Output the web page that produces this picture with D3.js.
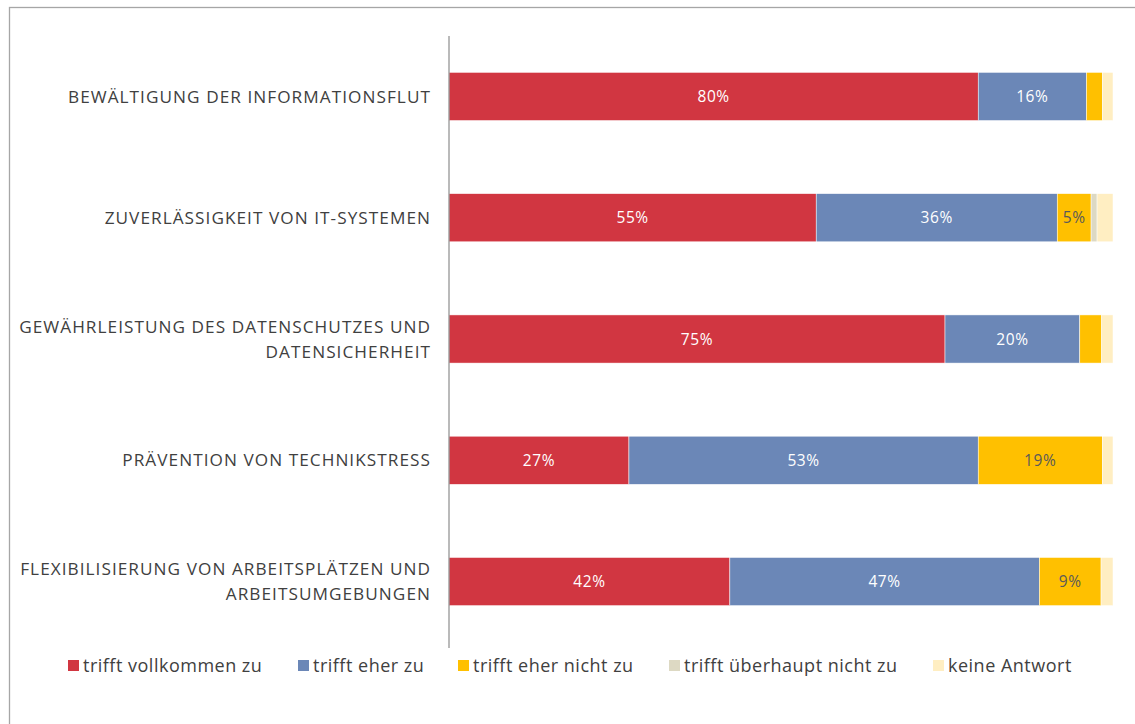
<!DOCTYPE html>
<html>
<head>
<meta charset="utf-8">
<script src="https://cdn.jsdelivr.net/npm/d3@7"></script>
<style>
  body { margin: 0; background: #fff; }
  svg { font-family: "Open Sans", sans-serif; }
</style>
</head>
<body>
<div id="bar-chart"></div>
<script>
const categories = [
  ["BEWÄLTIGUNG DER INFORMATIONSFLUT"],
  ["ZUVERLÄSSIGKEIT VON IT-SYSTEMEN"],
  ["GEWÄHRLEISTUNG DES DATENSCHUTZES UND", "DATENSICHERHEIT"],
  ["PRÄVENTION VON TECHNIKSTRESS"],
  ["FLEXIBILISIERUNG VON ARBEITSPLÄTZEN UND", "ARBEITSUMGEBUNGEN"]
];
const seriesNames = ["trifft vollkommen zu", "trifft eher zu", "trifft eher nicht zu", "trifft überhaupt nicht zu", "keine Antwort"];
const vollkommen = [79.7, 55.3, 74.7, 27.1, 42.3];
const eher = [16.3, 36.3, 20.3, 52.6, 46.6];
const eherNicht = [2.4, 5.1, 3.3, 18.7, 9.3];
const ueberhauptNicht = [0, 0.9, 0, 0, 0];
const keineAntwort = [1.6, 2.4, 1.7, 1.6, 1.8];
const colors = ["#d13641", "#6b87b7", "#ffc000", "#ddd9c3", "#ffeec2"];
const labelColors = ["#ffffff", "#ffffff", "#595959", "#595959", "#595959"];

(function() {
  const W = 1135, H = 724;
  const margin = { top: 36, right: 22, bottom: 82, left: 449 };
  const width = W - margin.left - margin.right;
  const height = H - margin.top - margin.bottom;

  const svg = d3.select('#bar-chart')
    .append('svg')
      .attr('width', W)
      .attr('height', H);

  // chart frame
  svg.append('rect')
    .attr('x', 9.5).attr('y', 7.5)
    .attr('width', W).attr('height', H)
    .attr('fill', 'none')
    .attr('stroke', '#a6a6a6')
    .attr('stroke-width', 1.3);

  const g = svg.append('g')
    .attr('transform', `translate(${margin.left}, ${margin.top})`);

  const seriesData = [vollkommen, eher, eherNicht, ueberhauptNicht, keineAntwort];
  const rows = categories.map((c, i) => {
    const row = { idx: i, label: c };
    seriesNames.forEach((s, j) => row[s] = seriesData[j][i]);
    return row;
  });

  const stack = d3.stack().keys(seriesNames)(rows);

  const x = d3.scaleLinear().domain([0, 100]).range([0, width]);
  const y = d3.scaleBand().domain(d3.range(categories.length)).range([0, height])
    .paddingInner(0.603).paddingOuter(0.3);
  const color = d3.scaleOrdinal(seriesNames, colors);

  const layers = g.selectAll('g.layer')
    .data(stack)
    .enter().append('g')
      .attr('class', 'layer')
      .attr('fill', d => color(d.key));

  layers.selectAll('rect')
    .data(d => d)
    .enter().append('rect')
      .attr('x', d => x(d[0]))
      .attr('y', d => y(d.data.idx))
      .attr('width', d => Math.max(0, x(d[1]) - x(d[0])))
      .attr('height', y.bandwidth())
      .attr('stroke', '#fff')
      .attr('stroke-width', 0.5);

  layers.each(function(layer, li) {
    d3.select(this).selectAll('text')
      .data(layer.filter(d => Math.round(d[1] - d[0]) >= 5))
      .enter().append('text')
        .attr('x', d => x((d[0] + d[1]) / 2))
        .attr('y', d => y(d.data.idx) + y.bandwidth() / 2)
        .attr('dy', '0.36em')
        .attr('text-anchor', 'middle')
        .attr('fill', labelColors[li])
        .style('font-size', '15.5px')
        .style('letter-spacing', '0.6px')
        .text(d => Math.round(d[1] - d[0]) + '%');
  });

  // category axis
  const yAxis = g.append('g').call(d3.axisLeft(y).tickSize(0).tickFormat(''));
  yAxis.select('.domain').attr('stroke', '#8c8c8c').attr('stroke-width', 1.2)
    .attr('d', `M0,0V${height + 6}`);

  const cat = g.selectAll('text.cat')
    .data(rows)
    .enter().append('text')
      .attr('class', 'cat')
      .attr('text-anchor', 'end')
      .attr('fill', '#404040')
      .style('font-size', '17.2px')
      .style('letter-spacing', '1.05px')
      .attr('y', d => y(d.idx) + y.bandwidth() / 2 - (d.label.length - 1) * 12.5);
  cat.selectAll('tspan')
    .data(d => d.label)
    .enter().append('tspan')
      .attr('x', -18)
      .attr('dy', (d, i) => i === 0 ? '0.36em' : '25px')
      .text(d => d);

  // legend
  const legendX = [68, 298, 458, 669, 933];
  const legend = svg.selectAll('.legend')
    .data(seriesNames)
    .enter().append('g')
      .attr('class', 'legend')
      .attr('transform', (d, i) => `translate(${legendX[i]}, 666)`);

  legend.append('rect')
    .attr('x', 0).attr('y', -6)
    .attr('width', 11).attr('height', 11)
    .style('fill', d => color(d));

  legend.append('text')
    .attr('x', 15)
    .attr('dy', '0.36em')
    .attr('fill', '#404040')
    .style('font-size', '18px')
    .style('letter-spacing', '0.5px')
    .text(d => d);
})();
</script>
</body>
</html>
